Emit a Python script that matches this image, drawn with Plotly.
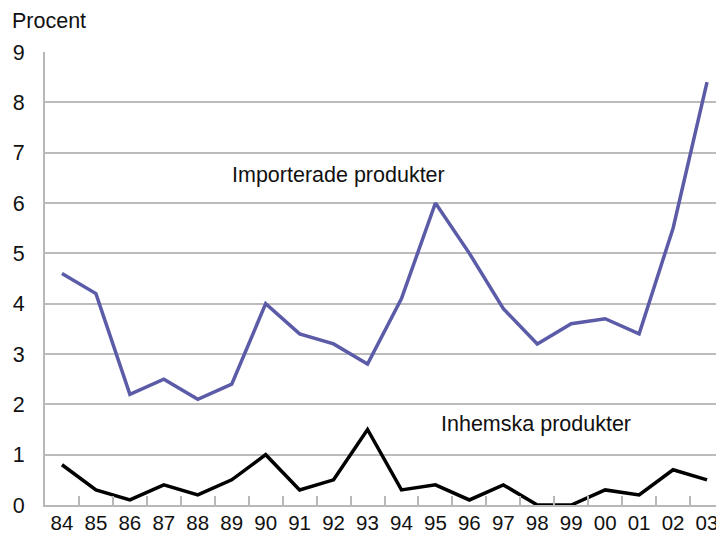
import plotly.graph_objects as go

years = ["84", "85", "86", "87", "88", "89", "90", "91", "92", "93",
         "94", "95", "96", "97", "98", "99", "00", "01", "02", "03"]
importerade = [4.6, 4.2, 2.2, 2.5, 2.1, 2.4, 4.0, 3.4, 3.2, 2.8,
               4.1, 6.0, 5.0, 3.9, 3.2, 3.6, 3.7, 3.4, 5.5, 8.4]
inhemska = [0.8, 0.3, 0.1, 0.4, 0.2, 0.5, 1.0, 0.3, 0.5, 1.5,
            0.3, 0.4, 0.1, 0.4, 0.0, 0.0, 0.3, 0.2, 0.7, 0.5]
y_ticks = [0, 1, 2, 3, 4, 5, 6, 7, 8, 9]

font = "Liberation Sans, Arial, sans-serif"
fs = 21.5
tfs = 20.5
fig = go.Figure()
fig.add_trace(go.Scatter(x=years, y=importerade, mode="lines",
                         line=dict(color="#5b5ba8", width=3.5), name="Importerade produkter"))
fig.add_trace(go.Scatter(x=years, y=inhemska, mode="lines",
                         line=dict(color="#000000", width=3.5), name="Inhemska produkter"))

fig.update_layout(
    width=716, height=525,
    margin=dict(l=37, r=0, t=44, b=28),
    paper_bgcolor="white", plot_bgcolor="white",
    showlegend=False,
    font=dict(family=font, size=fs, color="#111111"),
    xaxis=dict(type="category", tickson="boundaries", ticks="inside", ticklen=9,
               tickcolor="#b8b8b8", tickwidth=2, showline=True, linecolor="#b8b8b8",
               linewidth=2, showgrid=False, range=[-0.5, 19.5], tickangle=0,
               automargin=False, ticklabelstandoff=-2, tickfont=dict(size=tfs)),
    yaxis=dict(range=[0, 9], tickvals=y_ticks, showgrid=True, gridcolor="#bcbcbc",
               gridwidth=1.5, showline=True, linecolor="#b8b8b8", linewidth=2,
               automargin=False, zeroline=False, ticks="outside", ticklen=14,
               tickcolor="rgba(0,0,0,0)", tickfont=dict(size=fs)),
    annotations=[
        dict(text="Procent", xref="paper", yref="paper", x=-0.052, y=1.0695,
             xanchor="left", yanchor="middle", showarrow=False, font=dict(size=fs)),
        dict(text="Importerade produkter", xref="paper", yref="paper", x=0.272, y=0.7275,
             xanchor="left", yanchor="middle", showarrow=False, font=dict(size=fs)),
        dict(text="Inhemska produkter", xref="paper", yref="paper", x=0.581, y=0.179,
             xanchor="left", yanchor="middle", showarrow=False, font=dict(size=fs)),
    ],
)
fig.write_html("out.html")
